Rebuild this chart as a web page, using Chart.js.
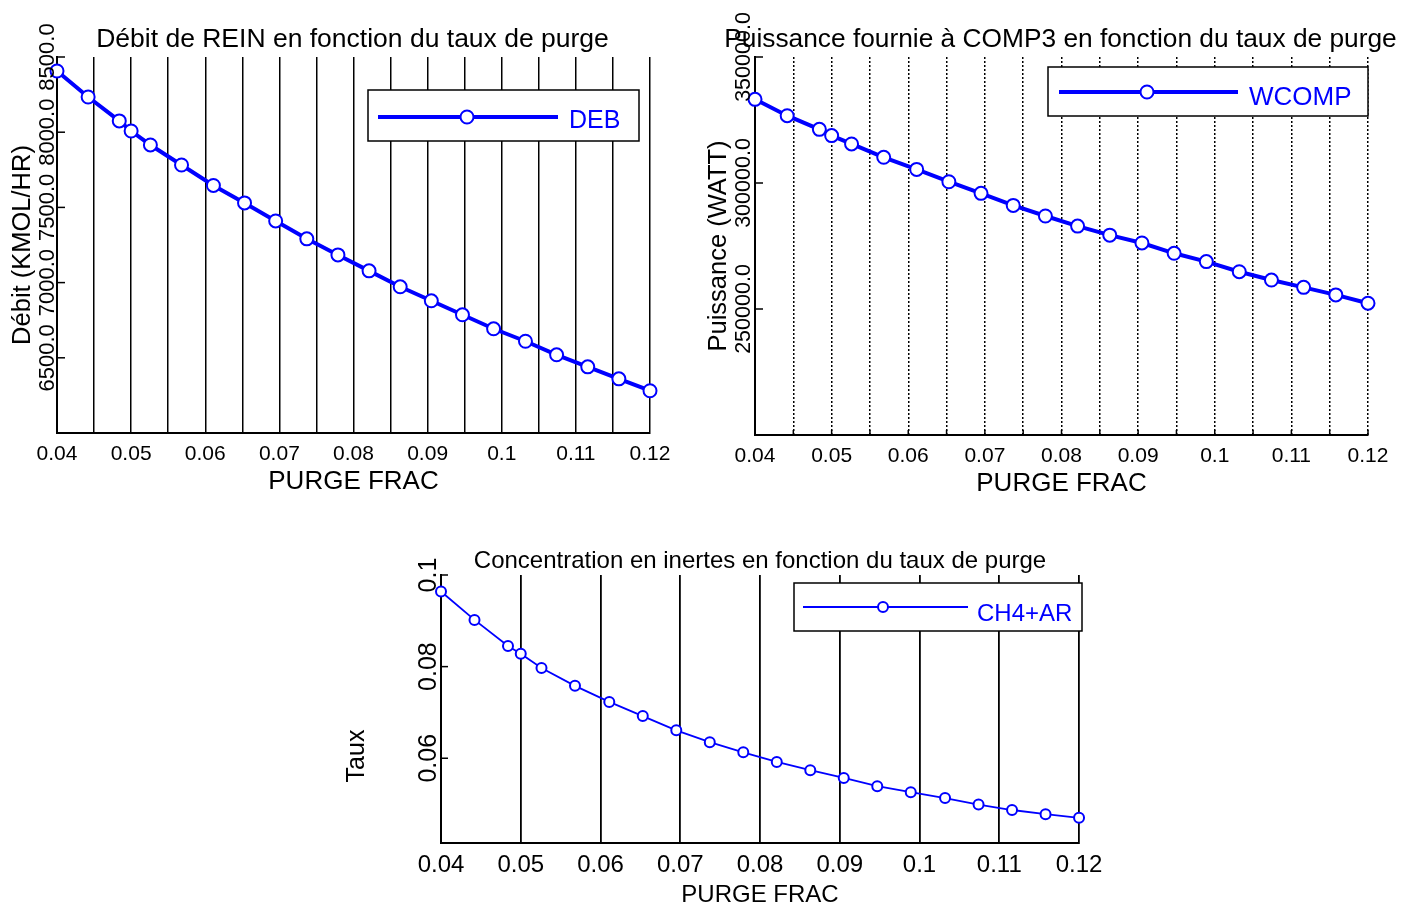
<!DOCTYPE html>
<html lang="fr">
<head>
<meta charset="utf-8">
<title>Taux de purge</title>
<script src="https://cdn.jsdelivr.net/npm/chart.js@4.4.1/dist/chart.umd.min.js"></script>
<style>
  html, body { margin: 0; padding: 0; background: #fff; overflow: hidden; }
  body { width: 1414px; height: 905px; position: relative; }
  canvas { position: absolute; }
  #debit { left: 0; top: 0; }
  #puissance { left: 700px; top: 0; }
  #inertes { left: 330px; top: 540px; }
</style>
</head>
<body>
<canvas id="debit" width="700" height="500"></canvas>
<canvas id="puissance" width="714" height="500"></canvas>
<canvas id="inertes" width="780" height="375"></canvas>
<script>
// taux de purge (axe x commun)
const purgeFrac = [0.04, 0.0442, 0.0484, 0.05, 0.0526, 0.0568, 0.0611, 0.0653, 0.0695, 0.0737, 0.0779,
  0.0821, 0.0863, 0.0905, 0.0947, 0.0989, 0.1032, 0.1074, 0.1116, 0.1158, 0.12];

// DEB (KMOL/HR)
const debit = [8407, 8234, 8075, 8008, 7915, 7782, 7646, 7530, 7410, 7291, 7184,
  7078, 6972, 6879, 6786, 6693, 6610, 6520, 6440, 6360, 6281];

// WCOMP (WATT)
const puissance = [333200, 326700, 321300, 318800, 315500, 310200, 305400, 300500, 295900, 291100, 286900,
  282900, 279300, 276200, 272100, 268800, 264800, 261500, 258600, 255600, 252300];

// CH4+AR
const inertes = [0.0964, 0.0902, 0.0845, 0.0828, 0.0797, 0.0758, 0.0723, 0.0692, 0.0661, 0.0635, 0.0613,
  0.0592, 0.0574, 0.0557, 0.0539, 0.0526, 0.0513, 0.0499, 0.0487, 0.0478, 0.0470];

// graduations
const debitTicks = [6500, 7000, 7500, 8000, 8500];
const puissanceTicks = [250000, 300000, 350000];
const inertesTicks = [0.06, 0.08, 0.1];

const FONT = 'Arial, "Liberation Sans", sans-serif';
const BLUE = '#0000ff';

Chart.defaults.font.family = FONT;
Chart.defaults.color = '#000';

function text(ctx, s, x, y, size, color, rot, align) {
  ctx.save();
  ctx.translate(x, y);
  if (rot) ctx.rotate(rot);
  ctx.font = size + 'px ' + FONT;
  ctx.fillStyle = color;
  ctx.textAlign = align;
  ctx.textBaseline = 'alphabetic';
  ctx.fillText(s, 0, 0.358 * size);
  ctx.restore();
}

// titres, graduations verticales, légende encadrée
function decor(conf) {
  return {
    id: 'decor',
    afterDraw(chart) {
      const ctx = chart.ctx;
      const area = chart.chartArea;
      const xs = chart.scales.x;
      const ys = chart.scales.y;
      const ds = chart.data.datasets[0];
      ctx.save();
      ctx.strokeStyle = '#000';
      ctx.lineWidth = 1.5;
      if (conf.xMarks) {
        xs.ticks.forEach(t => {
          const px = xs.getPixelForValue(t.value);
          ctx.beginPath();
          ctx.moveTo(px, area.bottom);
          ctx.lineTo(px, area.bottom - conf.xMarks);
          ctx.stroke();
        });
      }
      const yl = conf.yLabels;
      yl.values.forEach(v => {
        const py = ys.getPixelForValue(v);
        ctx.beginPath();
        ctx.moveTo(area.left, py);
        ctx.lineTo(area.left + yl.tick, py);
        ctx.stroke();
        const s = yl.fixed == null ? String(v) : v.toFixed(yl.fixed);
        text(ctx, s, yl.x, py, yl.size, '#000', -Math.PI / 2, 'center');
      });
      const yt = conf.yTitle;
      text(ctx, yt.text, yt.x, yt.y, yt.size, '#000', -Math.PI / 2, 'center');
      const t = conf.title;
      text(ctx, t.text, t.x, t.y, t.size, '#000', 0, 'center');

      const L = conf.legend;
      ctx.fillStyle = '#fff';
      ctx.fillRect(L.box[0], L.box[1], L.box[2], L.box[3]);
      ctx.strokeStyle = '#000';
      ctx.lineWidth = 1.5;
      ctx.strokeRect(L.box[0], L.box[1], L.box[2], L.box[3]);
      ctx.strokeStyle = ds.borderColor;
      ctx.lineWidth = ds.borderWidth;
      ctx.beginPath();
      ctx.moveTo(L.line[0], L.line[2]);
      ctx.lineTo(L.line[1], L.line[2]);
      ctx.stroke();
      ctx.beginPath();
      ctx.arc(L.marker, L.line[2], ds.pointRadius, 0, Math.PI * 2);
      ctx.fillStyle = ds.pointBackgroundColor;
      ctx.fill();
      ctx.lineWidth = ds.pointBorderWidth;
      ctx.strokeStyle = ds.pointBorderColor;
      ctx.stroke();
      text(ctx, ds.label, L.text[0], L.text[1], L.size, ds.borderColor, 0, 'left');
      ctx.restore();
    }
  };
}

function xLabel(v) {
  const c = v * 100;
  return Math.abs(c - Math.round(c)) < 1e-6 ? String(Math.round(c) / 100) : '';
}

function xAxis(o) {
  return {
    type: 'linear',
    min: 0.04,
    max: 0.12,
    afterFit: s => { s.height = o.height; },
    ticks: {
      stepSize: o.step,
      autoSkip: false,
      maxRotation: 0,
      padding: o.pad,
      color: '#000',
      font: { size: o.tickSize },
      callback: xLabel
    },
    grid: Object.assign({ color: '#000', drawTicks: false }, o.grid),
    border: Object.assign({ display: true, color: '#000', width: 2 }, o.border),
    title: {
      display: true,
      text: 'PURGE FRAC',
      color: '#000',
      font: { size: o.titleSize },
      padding: { top: 0, bottom: o.titlePad }
    }
  };
}

function yAxis(min, max) {
  return {
    type: 'linear',
    min: min,
    max: max,
    afterFit: s => { s.width = 0; },
    ticks: { display: false },
    grid: { display: false },
    border: { display: true, color: '#000', width: 2 }
  };
}

function serie(label, values, width, radius) {
  return {
    label: label,
    data: purgeFrac.map((x, i) => ({ x: x, y: values[i] })),
    borderColor: BLUE,
    borderWidth: width,
    pointRadius: radius,
    pointBorderWidth: 2,
    pointBackgroundColor: '#fff',
    pointBorderColor: BLUE,
    tension: 0,
    clip: false
  };
}

const common = {
  responsive: false,
  animation: false,
  events: [],
  plugins: { legend: { display: false }, tooltip: { enabled: false } }
};

new Chart(document.getElementById('debit'), {
  type: 'line',
  data: { datasets: [serie('DEB', debit, 4, 6.5)] },
  options: Object.assign({}, common, {
    layout: { padding: { top: 57, left: 57, right: 50, bottom: 0 } },
    scales: {
      x: xAxis({ height: 67, step: 0.005, pad: 9, tickSize: 21, titleSize: 26, titlePad: 3,
        grid: { lineWidth: 1.5 } }),
      y: yAxis(6000, 8500)
    }
  }),
  plugins: [decor({
    title: { text: 'Débit de REIN en fonction du taux de purge', x: 352.5, y: 38, size: 26.5 },
    yTitle: { text: 'Débit (KMOL/HR)', x: 21, y: 245, size: 25.5 },
    yLabels: { values: debitTicks, fixed: 1, x: 46, size: 22, tick: 8 },
    legend: { box: [368, 90, 271, 51], line: [378, 558, 117], marker: 467, text: [569, 119.5], size: 25 }
  })]
});

new Chart(document.getElementById('puissance'), {
  type: 'line',
  data: { datasets: [serie('WCOMP', puissance, 4, 6.5)] },
  options: Object.assign({}, common, {
    layout: { padding: { top: 57, left: 55, right: 46, bottom: 0 } },
    scales: {
      x: xAxis({ height: 65, step: 0.005, pad: 8.5, tickSize: 21, titleSize: 26, titlePad: 1,
        grid: { lineWidth: 1.5, borderDash: [2, 2] }, border: { dash: [2, 2] } }),
      y: yAxis(200000, 350000)
    }
  }),
  plugins: [decor({
    title: { text: 'Puissance fournie à COMP3 en fonction du taux de purge', x: 360.5, y: 37.5, size: 26.3 },
    yTitle: { text: 'Puissance (WATT)', x: 17, y: 246, size: 25.5 },
    yLabels: { values: puissanceTicks, fixed: 1, x: 42.5, size: 21.5, tick: 8 },
    xMarks: 5,
    legend: { box: [348, 67, 320, 49], line: [359, 538, 92], marker: 447, text: [549, 95.5], size: 26 }
  })]
});

new Chart(document.getElementById('inertes'), {
  type: 'line',
  data: { datasets: [serie('CH4+AR', inertes, 1.8, 5)] },
  options: Object.assign({}, common, {
    layout: { padding: { top: 35, left: 111, right: 28, bottom: 0 } },
    scales: {
      x: xAxis({ height: 72, step: 0.01, pad: 7.6, tickSize: 24, titleSize: 24, titlePad: 5.6,
        grid: { lineWidth: 1.8 } }),
      y: yAxis(0.0415, 0.1)
    }
  }),
  plugins: [decor({
    title: { text: 'Concentration en inertes en fonction du taux de purge', x: 760 - 330, y: 19.5, size: 24 },
    yTitle: { text: 'Taux', x: 25, y: 216, size: 25 },
    yLabels: { values: inertesTicks, fixed: null, x: 97.5, size: 25, tick: 7 },
    legend: { box: [464, 43, 288, 48], line: [473, 638, 67], marker: 553, text: [647, 72], size: 24 }
  })]
});
</script>
</body>
</html>
